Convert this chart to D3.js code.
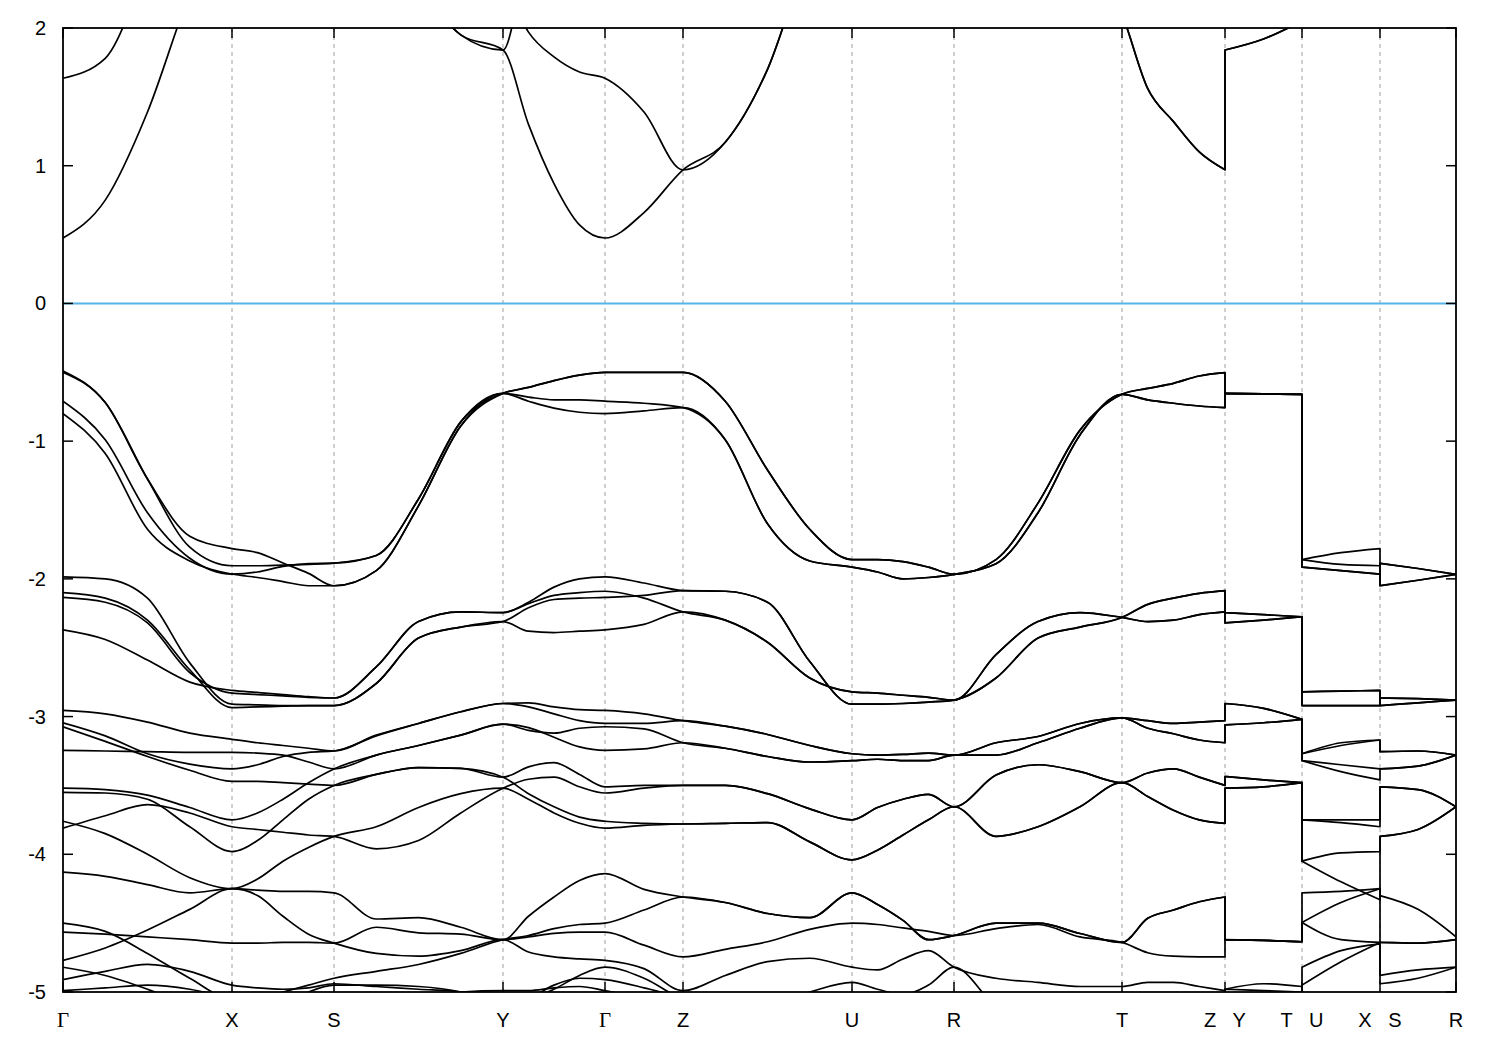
<!DOCTYPE html>
<html><head><meta charset="utf-8">
<script src="https://cdn.jsdelivr.net/npm/d3@7"></script>
<style>
body{margin:0;background:#fff}
text{font-family:Arial,"Liberation Sans",sans-serif;font-size:20px;fill:#000}
</style></head>
<body><svg id="chart" width="1500" height="1050"></svg>
<script>
// ---- k-path (high-symmetry points along the path) ----
const kLabels = ["Γ","X","S","Y","Γ","Z","U","R","T","Z   Y","T   U","X   S","R"];
const kPos    = [0,1.69,2.71,4.40,5.42,6.20,7.89,8.91,10.59,11.62,12.39,13.17,13.93];
const yTicks  = [2,1,0,-1,-2,-3,-4,-5];
// sampling of each band: piece 1 = Γ..Z (segments 0-8), pieces 2-4 = Y-T, U-X, S-R
const segSteps = [4,4,4,4,2,4,4,4,4];
const pieceSegs = [[0,9],[9,10],[10,11],[11,12]];
// value order in each band:
// Γ-X(5) X-S(4) S-Y(4) Y-Γ(4) Γ-Z(2) Z-U(4) U-R(4) R-T(4) T-Z(4) | Y-T(3) | U-X(3) | S-R(3)

const conductionBands = [
 [0.475,0.75,1.39,2.25,2.9, 3.0,3.0,3.0,3.0, 2.7,2.3,1.95,1.84, 1.30,0.87,0.57,0.475, 0.66,0.97, 1.17,1.70,2.55,3.0, 3.0,3.0,3.0,3.0, 3.0,2.9,2.6,2.1, 1.56,1.32,1.10,0.97, 1.84,1.92,2.05, 2.6,2.8,2.9, 2.9,2.9,2.9],
 [1.635,1.78,2.4,2.8,3.0, 3,3,3,3, 3,3,2.8,2.35, 1.97,1.79,1.68,1.635, 1.39,0.97, 1.17,1.70,2.55,3.0, 3,3,3,3, 3.0,2.9,2.6,2.1, 1.56,1.32,1.10,0.97, 1.84,1.92,2.05, 2.9,2.9,2.9, 2.9,2.9,2.9],
 [3,3,3,3,3, 3,3,3,3, 2.7,2.3,1.95,1.84, 2.6,3,3,3, 3,3, 3,3,3,3, 3,3,3,3, 3,3,2.05,2.1, 3,3,3,3, 3,3,3, 3,3,3, 3,3,3]
];
const valenceTop = [
 [-0.49,-0.72,-1.275,-1.69,-1.78, -1.81,-1.885,-1.96,-2.05, -1.94,-1.47,-0.89,-0.653, -0.61,-0.56,-0.52,-0.50, -0.50,-0.50, -0.71,-1.21,-1.64,-1.86, -1.86,-1.875,-1.915,-1.967, -1.86,-1.45,-0.92,-0.66, -0.617,-0.58,-0.527,-0.503, -0.653,-0.657,-0.66, -1.86,-1.81,-1.78, -2.05,-2.01,-1.967],
 [-0.50,-0.72,-1.275,-1.77,-1.905, -1.905,-1.90,-1.895,-1.886, -1.83,-1.42,-0.86,-0.653, -0.61,-0.56,-0.52,-0.50, -0.50,-0.50, -0.71,-1.21,-1.64,-1.86, -1.86,-1.875,-1.915,-1.967, -1.86,-1.45,-0.92,-0.66, -0.617,-0.58,-0.527,-0.503, -0.653,-0.657,-0.66, -1.86,-1.895,-1.905, -1.887,-1.925,-1.967],
 [-0.71,-0.99,-1.52,-1.85,-1.965, -1.95,-1.91,-1.89,-1.886, -1.83,-1.42,-0.86,-0.653, -0.68,-0.70,-0.70,-0.71, -0.725,-0.757, -0.99,-1.60,-1.87,-1.915, -1.95,-2.0,-1.99,-1.967, -1.89,-1.52,-0.955,-0.66, -0.70,-0.725,-0.745,-0.757, -0.653,-0.657,-0.66, -1.915,-1.94,-1.965, -1.887,-1.925,-1.967],
 [-0.80,-1.09,-1.64,-1.87,-1.965, -1.99,-2.02,-2.05,-2.05, -1.94,-1.47,-0.89,-0.653, -0.71,-0.76,-0.79,-0.80, -0.78,-0.757, -0.99,-1.60,-1.87,-1.915, -1.95,-2.0,-1.99,-1.967, -1.89,-1.52,-0.955,-0.66, -0.70,-0.725,-0.745,-0.757, -0.653,-0.657,-0.66, -1.915,-1.94,-1.965, -2.05,-2.01,-1.967]
];
const valenceSecond = [
 [-1.985,-2.0,-2.14,-2.61,-2.91, -2.915,-2.92,-2.92,-2.92, -2.76,-2.43,-2.35,-2.31, -2.21,-2.15,-2.14,-2.135, -2.12,-2.085, -2.09,-2.17,-2.60,-2.91, -2.91,-2.905,-2.895,-2.88, -2.72,-2.43,-2.35,-2.28, -2.185,-2.14,-2.105,-2.085, -2.245,-2.26,-2.275, -2.92,-2.92,-2.92, -2.92,-2.90,-2.88],
 [-2.10,-2.14,-2.30,-2.66,-2.935, -2.93,-2.925,-2.92,-2.92, -2.76,-2.43,-2.35,-2.31, -2.38,-2.39,-2.38,-2.37, -2.33,-2.24, -2.30,-2.46,-2.72,-2.82, -2.83,-2.845,-2.86,-2.88, -2.55,-2.31,-2.245,-2.28, -2.31,-2.30,-2.26,-2.24, -2.32,-2.30,-2.275, -2.82,-2.815,-2.81, -2.92,-2.90,-2.88],
 [-2.135,-2.17,-2.32,-2.68,-2.83, -2.84,-2.85,-2.86,-2.865, -2.64,-2.31,-2.24,-2.245, -2.17,-2.06,-2.0,-1.985, -2.03,-2.085, -2.09,-2.17,-2.60,-2.91, -2.91,-2.905,-2.895,-2.88, -2.72,-2.43,-2.35,-2.28, -2.185,-2.14,-2.105,-2.085, -2.245,-2.26,-2.275, -2.92,-2.92,-2.92, -2.865,-2.87,-2.88],
 [-2.37,-2.44,-2.59,-2.75,-2.81, -2.825,-2.84,-2.855,-2.865, -2.64,-2.31,-2.24,-2.245, -2.18,-2.12,-2.10,-2.09, -2.14,-2.24, -2.30,-2.46,-2.72,-2.82, -2.83,-2.845,-2.86,-2.88, -2.55,-2.31,-2.245,-2.28, -2.31,-2.30,-2.26,-2.24, -2.32,-2.30,-2.275, -2.82,-2.815,-2.81, -2.865,-2.87,-2.88]
];
const valenceThird = [
 [-2.955,-2.98,-3.04,-3.12,-3.165, -3.19,-3.21,-3.23,-3.25, -3.135,-3.05,-2.965,-2.905, -2.90,-2.93,-2.95,-2.955, -2.98,-3.03, -3.07,-3.13,-3.21,-3.27, -3.28,-3.275,-3.265,-3.28, -3.19,-3.145,-3.05,-3.01, -3.03,-3.05,-3.04,-3.03, -2.905,-2.94,-3.02, -3.27,-3.19,-3.17, -3.255,-3.25,-3.28],
 [-3.045,-3.14,-3.27,-3.345,-3.38, -3.35,-3.29,-3.26,-3.25, -3.14,-3.05,-2.965,-2.905, -2.93,-2.98,-3.03,-3.05, -3.05,-3.03, -3.07,-3.13,-3.21,-3.27, -3.28,-3.275,-3.265,-3.28, -3.19,-3.145,-3.05,-3.01, -3.03,-3.05,-3.04,-3.03, -2.905,-2.94,-3.02, -3.27,-3.21,-3.17, -3.255,-3.25,-3.28],
 [-3.074,-3.18,-3.29,-3.39,-3.47, -3.47,-3.48,-3.49,-3.50, -3.42,-3.37,-3.376,-3.44, -3.365,-3.335,-3.42,-3.51, -3.50,-3.50, -3.50,-3.56,-3.67,-3.75, -3.66,-3.60,-3.565,-3.655, -3.425,-3.35,-3.40,-3.48, -3.41,-3.38,-3.44,-3.50, -3.435,-3.46,-3.48, -3.75,-3.75,-3.75, -3.51,-3.53,-3.655],
 [-3.245,-3.25,-3.255,-3.26,-3.26, -3.265,-3.28,-3.33,-3.38, -3.28,-3.21,-3.135,-3.055, -3.08,-3.15,-3.22,-3.245, -3.235,-3.19, -3.23,-3.29,-3.33,-3.32, -3.31,-3.32,-3.32,-3.28, -3.28,-3.19,-3.085,-3.01, -3.085,-3.125,-3.17,-3.19, -3.06,-3.045,-3.02, -3.32,-3.35,-3.38, -3.38,-3.36,-3.28],
 [-3.52,-3.53,-3.57,-3.66,-3.75, -3.70,-3.60,-3.48,-3.38, -3.28,-3.21,-3.135,-3.055, -3.10,-3.12,-3.085,-3.074, -3.09,-3.19, -3.23,-3.29,-3.33,-3.32, -3.31,-3.32,-3.32,-3.28, -3.28,-3.19,-3.085,-3.01, -3.085,-3.125,-3.17,-3.19, -3.06,-3.045,-3.02, -3.32,-3.40,-3.46, -3.38,-3.36,-3.28],
 [-3.55,-3.555,-3.60,-3.80,-3.98, -3.90,-3.75,-3.60,-3.50, -3.42,-3.37,-3.376,-3.44, -3.56,-3.655,-3.73,-3.76, -3.775,-3.78, -3.775,-3.77,-3.91,-4.04, -3.97,-3.86,-3.75,-3.655, -3.87,-3.80,-3.655,-3.48, -3.58,-3.68,-3.75,-3.775, -3.52,-3.51,-3.48, -4.05,-3.99,-3.98, -3.87,-3.82,-3.655],
 [-3.81,-3.72,-3.64,-3.70,-3.80, -3.82,-3.84,-3.86,-3.87, -3.96,-3.90,-3.70,-3.52, -3.455,-3.44,-3.51,-3.555, -3.52,-3.50, -3.50,-3.56,-3.67,-3.75, -3.66,-3.60,-3.565,-3.655, -3.425,-3.35,-3.40,-3.48, -3.41,-3.38,-3.44,-3.50, -3.435,-3.46,-3.48, -3.75,-3.77,-3.80, -3.51,-3.53,-3.655],
 [-3.76,-3.85,-4.0,-4.17,-4.25, -4.18,-4.05,-3.95,-3.87, -3.80,-3.66,-3.56,-3.52, -3.60,-3.70,-3.775,-3.81, -3.79,-3.78, -3.775,-3.77,-3.91,-4.04, -3.97,-3.86,-3.75,-3.655, -3.87,-3.80,-3.655,-3.48, -3.58,-3.68,-3.75,-3.775, -3.52,-3.51,-3.48, -4.05,-4.2,-4.33, -3.87,-3.82,-3.655]
];
const valenceDeep = [
 [-4.13,-4.16,-4.22,-4.28,-4.25, -4.26,-4.27,-4.27,-4.28, -4.47,-4.46,-4.53,-4.62, -4.45,-4.31,-4.19,-4.14, -4.255,-4.31, -4.35,-4.43,-4.46,-4.28, -4.365,-4.48,-4.62,-4.59, -4.50,-4.50,-4.575,-4.64, -4.465,-4.405,-4.345,-4.31, -4.62,-4.625,-4.635, -4.28,-4.27,-4.25, -4.30,-4.40,-4.60],
 [-4.50,-4.56,-4.72,-4.90,-5.05, -5.05,-5.0,-4.95,-4.90, -4.85,-4.80,-4.72,-4.62, -4.59,-4.54,-4.51,-4.50, -4.405,-4.31, -4.35,-4.43,-4.46,-4.28, -4.365,-4.48,-4.62,-4.59, -4.50,-4.50,-4.575,-4.64, -4.465,-4.405,-4.345,-4.31, -4.62,-4.625,-4.635, -4.495,-4.62,-4.64, -4.64,-4.645,-4.62],
 [-4.565,-4.58,-4.60,-4.62,-4.645, -4.645,-4.64,-4.64,-4.645, -4.53,-4.57,-4.58,-4.62, -4.60,-4.575,-4.565,-4.565, -4.66,-4.745, -4.69,-4.635,-4.545,-4.50, -4.51,-4.535,-4.56,-4.59, -4.54,-4.51,-4.60,-4.64, -4.715,-4.74,-4.745,-4.745, -4.62,-4.625,-4.635, -4.495,-4.35,-4.25, -4.64,-4.645,-4.62],
 [-4.77,-4.68,-4.55,-4.40,-4.25, -4.30,-4.45,-4.58,-4.645, -4.72,-4.74,-4.70,-4.62, -4.71,-4.745,-4.76,-4.77, -4.83,-4.99, -4.88,-4.78,-4.755,-4.82, -4.84,-4.76,-4.70,-4.82, -4.90,-4.93,-4.96,-4.96, -4.93,-4.93,-4.96,-4.99, -4.98,-4.94,-4.96, -4.82,-4.70,-4.65, -4.88,-4.84,-4.82],
 [-4.82,-4.88,-4.98,-5.1,-5.2, -5.2,-5.1,-5.0,-4.95, -4.95,-4.96,-5.0,-5.1, -5.05,-4.98,-4.88,-4.82, -4.90,-5.05, -5.1,-5.1,-5.0,-4.93, -4.98,-5.02,-4.95,-4.82, -5.1,-5.2,-5.2,-5.1, -5.1,-5.1,-5.1,-5.1, -5.1,-5.1,-5.1, -4.95,-4.78,-4.64, -4.94,-4.90,-4.82],
 [-4.91,-4.85,-4.80,-4.85,-4.95, -4.97,-4.98,-4.97,-4.94, -4.96,-4.98,-5.0,-5.1, -5.05,-4.95,-4.90,-4.91, -4.97,-5.05, -5.2,-5.2,-5.2,-5.2, -5.2,-5.2,-5.2,-5.2, -5.2,-5.2,-5.2,-5.2, -5.2,-5.2,-5.2,-5.2, -5.2,-5.2,-5.2, -5.2,-5.2,-5.2, -5.2,-5.2,-5.2],
 [-4.99,-4.97,-4.95,-4.98,-5.05, -5.1,-5.1,-5.1,-5.1, -5.1,-5.05,-5.0,-4.99, -4.99,-4.97,-4.96,-4.99, -5.05,-5.1, -5.2,-5.2,-5.2,-5.2, -5.2,-5.2,-5.2,-5.2, -5.2,-5.2,-5.2,-5.2, -5.2,-5.2,-5.2,-5.2, -4.98,-4.99,-5.0, -5.2,-5.2,-5.2, -5.2,-5.2,-5.2]
];

// ---- sample positions along the path (built from kPos) ----
function pieceGrid(){
  const pieces = [];
  pieceSegs.forEach(([a,b],pi)=>{
    const xs=[kPos[a]];
    for(let s=a;s<b;s++){
      const n = pi===0 ? segSteps[s] : 2;
      for(let j=1;j<=n;j++) xs.push(kPos[s]+j/n*(kPos[s+1]-kPos[s]));
    }
    pieces.push(xs);
  });
  return pieces;
}
const grid = pieceGrid();

const m={l:63,r:1456,t:28,b:992};
const svg=d3.select("#chart");
const x=d3.scaleLinear().domain([kPos[0],kPos[kPos.length-1]]).range([m.l,m.r]);
const y=d3.scaleLinear().domain([-5,2]).range([m.b,m.t]);

svg.append("defs").append("clipPath").attr("id","clip")
  .append("rect").attr("x",m.l).attr("y",m.t).attr("width",m.r-m.l).attr("height",m.b-m.t);

// vertical dashed lines at interior k-points
svg.append("g").selectAll("line").data(kPos.slice(1,-1)).join("line")
  .attr("x1",d=>x(d)).attr("x2",d=>x(d)).attr("y1",m.t).attr("y2",m.b)
  .attr("stroke","#a0a0a0").attr("stroke-width",1).attr("stroke-dasharray","4,4");

// Fermi level
svg.append("line").attr("x1",m.l).attr("x2",m.r).attr("y1",y(0)).attr("y2",y(0))
  .attr("stroke","#56b4e9").attr("stroke-width",2);

// bands
const line=d3.line().x(d=>x(d[0])).y(d=>y(d[1])).curve(d3.curveMonotoneX);
function bandPath(vals){
  let off=0, d="";
  grid.forEach((xs,pi)=>{
    const pts=xs.map((k,i)=>[k,vals[off+i]]);
    off+=xs.length;
    let p=line(pts);
    if(pi>0) p="L"+p.slice(1);
    d+=p;
  });
  return d;
}
const allBands=[...conductionBands,...valenceTop,...valenceSecond,...valenceThird,...valenceDeep];
svg.append("g").attr("clip-path","url(#clip)").selectAll("path").data(allBands).join("path")
  .attr("d",bandPath).attr("fill","none").attr("stroke","#000").attr("stroke-width",1.7)
  .attr("stroke-linejoin","round");

// frame
svg.append("rect").attr("x",m.l).attr("y",m.t).attr("width",m.r-m.l).attr("height",m.b-m.t)
  .attr("fill","none").attr("stroke","#000").attr("stroke-width",1.8);

// y ticks (inward, mirrored)
const tl=10;
yTicks.forEach(v=>{
  svg.append("line").attr("x1",m.l).attr("x2",m.l+tl).attr("y1",y(v)).attr("y2",y(v)).attr("stroke","#000").attr("stroke-width",1.5);
  svg.append("line").attr("x1",m.r-tl).attr("x2",m.r).attr("y1",y(v)).attr("y2",y(v)).attr("stroke","#000").attr("stroke-width",1.5);
  svg.append("text").attr("x",m.l-17).attr("y",y(v)).attr("dy","0.35em").attr("text-anchor","end").text(v);
});
// x ticks and labels
kPos.forEach((k,i)=>{
  svg.append("line").attr("x1",x(k)).attr("x2",x(k)).attr("y1",m.b).attr("y2",m.b-tl).attr("stroke","#000").attr("stroke-width",1.5);
  svg.append("line").attr("x1",x(k)).attr("x2",x(k)).attr("y1",m.t).attr("y2",m.t+tl).attr("stroke","#000").attr("stroke-width",1.5);
  const t=svg.append("text").attr("x",x(k)).attr("y",m.b+35).attr("text-anchor","middle")
    .style("white-space","pre").text(kLabels[i]);
  if(kLabels[i]==="Γ") t.style("font-family","'Liberation Serif','Times New Roman',serif").style("font-size","21px");
});
</script></body></html>
